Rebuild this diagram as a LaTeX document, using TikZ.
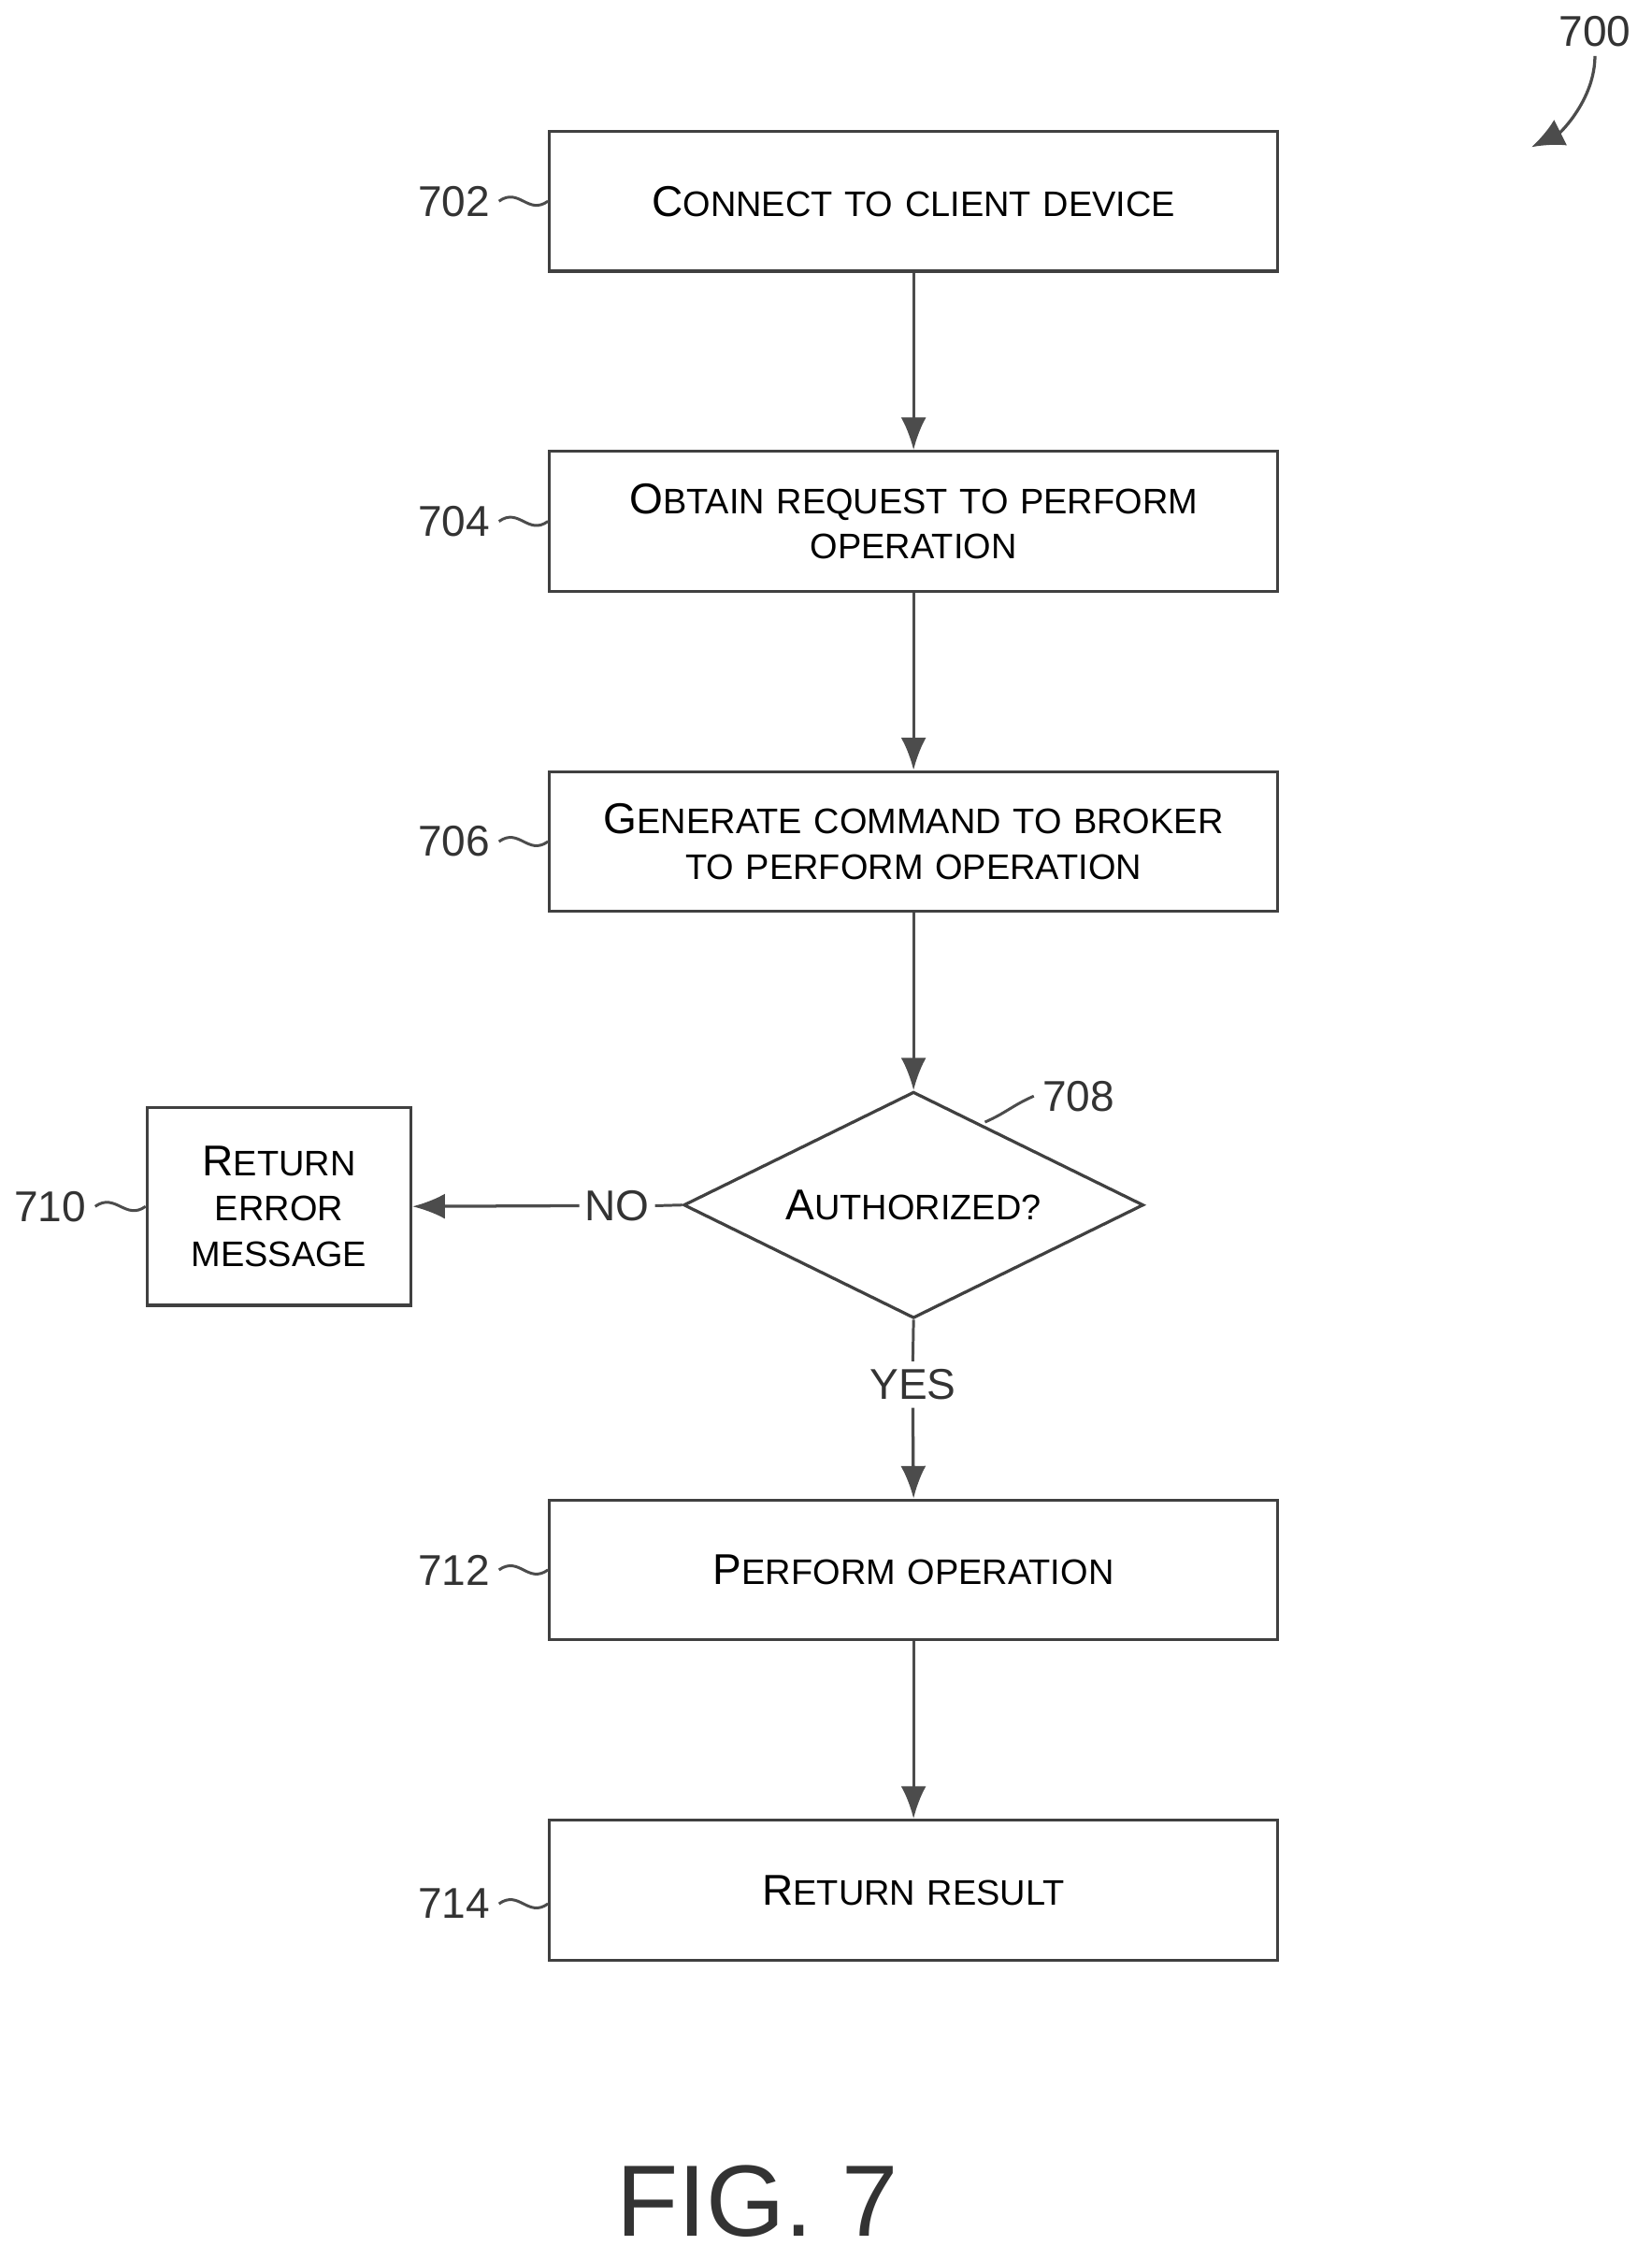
\documentclass[tikz,border=0pt]{standalone}
\usepackage{fontspec}
\setmainfont{Liberation Sans}
\usetikzlibrary{shapes.geometric,arrows.meta}
\newcommand\capfont{\fontsize{17}{20}\selectfont}
\newcommand\lowfont{\fontsize{14}{20}\selectfont}
\newcommand\fc[2]{{\capfont #1}{\lowfont #2}}
\tikzset{
  block/.style={draw=black!75, line width=1.2pt, minimum width=10.1cm, minimum height=1.94cm,
    align=center, text width=9.6cm, font=\lowfont},
  num/.style={font=\capfont, text=black!80},
  flow/.style={draw=black!70, line width=1.2pt, -{Latex[length=0.45cm,width=0.35cm]}},
  wave/.style={draw=black!70, line width=1.1pt}
}
\begin{document}
\begin{tikzpicture}[x=0.02cm,y=-0.02cm]
  \useasboundingbox (0,0) rectangle (1145,1567);
  % steps
  \node[block] (b702) at (633.5,139.5) {\fc{C}{ONNECT TO CLIENT DEVICE}};
  \node[block] (b704) at (633.5,361.5) {\fc{O}{BTAIN REQUEST TO PERFORM}\\[-2pt]OPERATION};
  \node[block] (b706) at (633.5,583.5) {\fc{G}{ENERATE COMMAND TO BROKER}\\[-2pt]TO PERFORM OPERATION};
  \node[draw=black!75, line width=1.2pt, diamond, minimum width=6.38cm, minimum height=3.14cm,
    inner sep=0pt, aspect=2, font=\lowfont] (d708) at (633.5,835.5) {\fc{A}{UTHORIZED?}};
  \node[block, minimum width=3.66cm, minimum height=2.74cm, text width=3.4cm] (b710) at (193.5,836.5)
    {\fc{R}{ETURN}\\[-2pt]ERROR\\[-2pt]MESSAGE};
  \node[block] (b712) at (633.5,1088.5) {\fc{P}{ERFORM OPERATION}};
  \node[block] (b714) at (633.5,1310.5) {\fc{R}{ETURN RESULT}};
  % branch labels
  \node[num, inner sep=2pt] (no) at (428,836) {NO};
  \node[num, inner sep=3pt] (yes) at (633,960) {YES};
  % connectors
  \draw[flow] (b702) -- (b704);
  \draw[flow] (b704) -- (b706);
  \draw[flow] (b706) -- (d708);
  \draw[wave] (d708.west) -- (no.east);
  \draw[flow] (no.west) -- (b710.east);
  \draw[wave] (d708.south) -- (yes.north);
  \draw[flow] (yes.south) -- (b712.north);
  \draw[flow] (b712) -- (b714);
  % reference numerals
  \node[num, anchor=east] (l702) at (346,139.5) {702};
  \node[num, anchor=east] (l704) at (346,361.5) {704};
  \node[num, anchor=east] (l706) at (346,583.5) {706};
  \node[num, anchor=east] (l710) at (66,836.5) {710};
  \node[num, anchor=east] (l712) at (346,1088.5) {712};
  \node[num, anchor=east] (l714) at (346,1320) {714};
  \node[num] (l708) at (748,760) {708};
  \node[num] (l700) at (1106,22) {700};
  \foreach \n in {702,704,706,712}
    \draw[wave] (l\n.east) .. controls +(14,-10) and +(-14,10) .. (b\n.west);
  \draw[wave] (l714.east) .. controls +(14,-10) and +(-14,10) .. (b714.west |- l714.east);
  \draw[wave] (l710.east) .. controls +(14,-10) and +(-14,10) .. (b710.west);
  \coordinate (t708) at (683,778);
  \draw[wave] (t708) .. controls +(14,-6) and +(-14,6) .. (l708.west);
  \coordinate (h700) at (1062,102);
  \draw[draw=black!70, line width=1.2pt, -{Latex[length=0.45cm,width=0.4cm]}]
    (l700.south) .. controls +(0,30) and +(20,-10) .. (h700);
  % figure title
  \node[font=\fontsize{40}{48}\selectfont, text=black!80] (fig) at (525,1526) {FIG. 7};
\end{tikzpicture}
\end{document}
